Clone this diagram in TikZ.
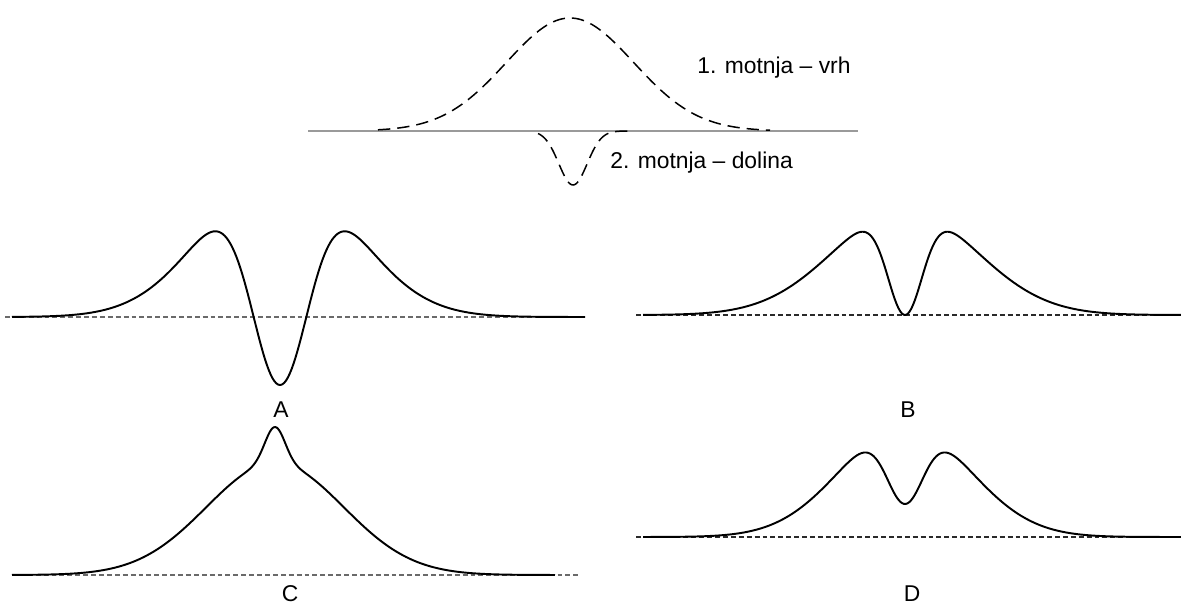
\documentclass[tikz,border=0pt]{standalone}
\usepackage{fontspec}
\setmainfont{Liberation Sans}
\usetikzlibrary{positioning}
\definecolor{inkcolor}{HTML}{000000}
\definecolor{axisgray}{HTML}{9A9A9A}
\definecolor{zerogray}{HTML}{6A6A6A}
\definecolor{zerodark}{HTML}{2A2A2A}

\begin{document}
\begin{tikzpicture}[
  x=0.02cm, y=-0.02cm,
  every node/.style={font=\fontsize{13pt}{15pt}\selectfont, inner sep=0pt},
  declare function={
    gaussf(\t)=exp(-min(\t*\t,15));
  },
]

\tikzset{
  axisline/.style={axisgray, line width=1.6pt},
  partcurve/.style={inkcolor, line width=0.85pt, dash pattern=on 7pt off 4pt},
  zeroline/.style={zerogray, line width=0.6pt, dash pattern=on 2.8pt off 1.7pt},
  sumcurve/.style={inkcolor, line width=1.1pt, line join=round},
  panellabel/.style={anchor=center},
}

\useasboundingbox (0,0) rectangle (1181,608);

% ---- top: the two parts ----
\draw[axisline] (308,131) -- (858,131);
\draw[partcurve] plot[domain=378:770, samples=120]
  (\x, {131 - 113*gaussf((\x-570)/90)});
\draw[partcurve] plot[domain=538:628, samples=60]
  (\x, {131 + 54*gaussf((\x-573)/20)});
\node[anchor=west] (vrh) at (697,68) {1. motnja – vrh};
\node[anchor=west] (dolina) at (610,163) {2. motnja – dolina};

% ---- A ----
\draw[zeroline] (5,317) -- (585,317);
\draw[sumcurve] plot[domain=12:585, samples=300]
  (\x, {317 - (155*gaussf((\x-280)/100) - 223*gaussf((\x-280)/40))});
\node[panellabel] (lblA) at (281,410) {A};

% ---- B ----
\draw[zeroline, zerodark] (636,315) -- (1181,315);
\draw[sumcurve] plot[domain=643:1181, samples=300]
  (\x, {315 - (106*gaussf((\x-905)/100) - 106*gaussf((\x-905)/24.5))});
\node[panellabel] (lblB) at (908,410) {B};

% ---- C ----
\draw[zeroline] (12,575) -- (580,575);
\draw[sumcurve] plot[domain=12:555, samples=300]
  (\x, {575 - (112*gaussf((\x-275)/97) + 36*gaussf((\x-275)/14))});
\node[panellabel] (lblC) at (290,594) {C};

% ---- D ----
\draw[zeroline, zerodark] (636,537) -- (1181,537);
\draw[sumcurve] plot[domain=643:1181, samples=300]
  (\x, {537 - (112*gaussf((\x-905)/90) - 79*gaussf((\x-905)/26))});
\node[panellabel] (lblD) at (912,594) {D};

\end{tikzpicture}
\end{document}
